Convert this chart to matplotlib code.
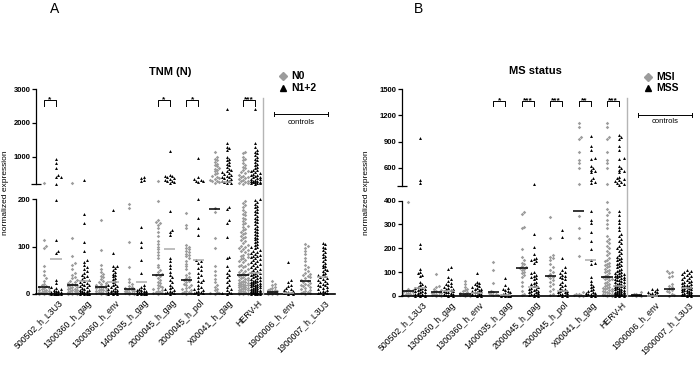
import numpy as np
import matplotlib
matplotlib.use('Agg')
import matplotlib.pyplot as plt
from matplotlib.lines import Line2D
import matplotlib.transforms as mtransforms

plt.rcParams['font.family'] = ['Liberation Sans', 'DejaVu Sans']

# ---------------- data ----------------
genes = ['500502_h_L3U3', '1300360_h_gag', '1300360_h_env', '1400035_h_gag',
         '2000045_h_gag', '2000045_h_pol', 'X00041_h_gag', 'HERV-H',
         '1900006_h_env', '1900007_h_L3U3']

# Panel A: TNM (N)
a_n0 = [
    [215, 113, 101, 97, 60, 48, 40, 33, 28, 22, 18, 16, 15, 13, 12, 10, 9, 8, 7, 6, 5, 5, 4, 3, 3, 2, 2, 1, 1, 0.5],
    [230, 118, 81, 66, 62, 52, 45, 40, 36, 33, 30, 28, 26, 24, 22, 20, 19, 18, 16, 15, 14, 12, 11, 10, 9, 8, 7, 6, 5, 4, 3, 2, 2, 1, 1, 0.5],
    [156, 93, 61, 52, 46, 42, 38, 35, 31, 28, 26, 24, 22, 20, 18, 16, 15, 14, 13, 12, 10, 9, 8, 7, 6, 5, 4, 3, 2, 1, 0.5],
    [189, 181, 110, 57, 32, 26, 21, 17, 14, 12, 11, 10, 9, 8, 7, 6, 5, 4, 3, 2, 1, 0.5],
    [290, 196, 155, 152, 150, 146, 140, 131, 122, 112, 106, 100, 94, 88, 82, 75, 62, 56, 50, 46, 42, 40, 38, 34, 30, 26, 23, 20, 17, 14, 12, 10, 8, 6, 5, 4, 3, 2, 1],
    [170, 145, 139, 103, 100, 97, 94, 91, 88, 85, 82, 79, 75, 70, 64, 58, 52, 45, 40, 36, 33, 30, 28, 25, 22, 20, 18, 15, 12, 10, 8, 6, 5, 4, 3, 2, 1],
    [1150, 1000, 950, 900, 850, 800, 760, 720, 680, 650, 610, 570, 530, 490, 450, 420, 380, 350, 320, 300, 280, 250, 225,
     181, 173, 118, 97, 60, 48, 40, 32, 26, 20, 15, 11, 8, 5, 3, 2, 1],
    [1150, 1100, 1000, 950, 900, 820, 760, 710, 660, 620, 580, 550, 520, 480, 450, 420, 400, 380, 350, 320, 300, 280, 260, 240, 220, 210,
     196, 191, 187, 183, 177, 173, 169, 166, 161, 157, 153, 150, 147, 143, 141, 137, 134, 131, 129, 126, 122, 120, 117, 113, 111,
     108, 104, 102, 100, 97, 95, 92, 90, 88, 85, 83, 80, 78, 76, 73, 71, 69, 67, 64, 62, 60, 58, 56, 53, 51, 49, 47, 45, 43, 41,
     40, 38, 36, 34, 33, 31, 30, 29, 27, 26, 25, 24, 23, 22, 21, 20, 19, 18, 17, 16, 15, 14, 13, 12, 11, 10, 9, 8, 7, 6, 5, 4,
     3, 3, 2, 2, 1, 1, 0.5],
    [28, 22, 18, 15, 12, 10, 9, 8, 7, 6, 5, 5, 4, 3, 3, 2, 2, 1, 1, 0.5],
    [105, 101, 96, 90, 84, 76, 70, 62, 56, 52, 48, 45, 42, 40, 38, 35, 33, 30, 28, 26, 24, 22, 20, 18, 16, 14, 12, 10, 8, 6, 5, 4, 3, 2, 1],
]
a_n12 = [
    [935, 826, 660, 463, 420, 413, 205, 198, 113, 90, 86, 30, 23, 14, 12, 10, 8, 7, 6, 5, 4, 4, 3, 3, 2, 2, 1, 1, 1, 0.5, 0.5, 0.3],
    [307, 168, 149, 110, 90, 72, 68, 62, 57, 52, 48, 44, 40, 38, 35, 32, 30, 28, 26, 24, 22, 20, 18, 16, 14, 12, 10, 9, 8, 7, 6, 5, 4, 3, 3, 2, 2, 1, 1, 0.5, 0.5],
    [177, 86, 60, 58, 55, 51, 47, 43, 40, 37, 34, 31, 28, 25, 22, 20, 18, 16, 14, 12, 10, 9, 8, 7, 6, 5, 4, 3, 2, 2, 1, 1, 0.5],
    [420, 380, 330, 290, 142, 110, 100, 72, 44, 20, 15, 12, 10, 9, 8, 7, 6, 5, 4, 4, 3, 3, 2, 2, 1, 1, 0.5, 0.5],
    [1180, 480, 450, 430, 400, 380, 350, 330, 300, 280, 250, 220, 175, 135, 131, 124, 76, 70, 62, 55, 47, 40, 35, 30, 25, 20, 15, 12, 10, 8, 6, 5, 4, 3, 2, 1],
    [957, 400, 350, 320, 300, 280, 250, 200, 159, 138, 124, 72, 70, 65, 60, 55, 50, 45, 40, 35, 30, 28, 25, 20, 15, 12, 10, 8, 6, 5, 4, 3, 2, 1],
    [2410, 1410, 1300, 1250, 1190, 1000, 950, 900, 850, 800, 750, 700, 650, 600, 580, 550, 520, 500, 480, 450, 420, 400, 380, 350, 330,
     300, 280, 260, 240, 220, 184, 180, 155, 150, 121, 78, 75, 60, 50, 45, 40, 35, 30, 25, 20, 15, 10, 8, 5, 3, 2, 1],
    [2400, 1400, 1300, 1200, 1150, 1100, 1050, 1000, 950, 900, 850, 800, 750, 700, 660, 620, 600, 580, 550, 520, 500, 480, 460, 440,
     420, 400, 380, 360, 340, 320, 300, 290, 280, 270, 260, 250, 240, 230, 220, 210,
     199, 197, 193, 190, 186, 183, 178, 175, 172, 168, 165, 161, 158, 154, 151, 147, 144, 140, 137, 133, 130, 127, 124, 121, 118,
     115, 112, 109, 106, 103, 100, 98, 96, 93, 91, 89, 87, 85, 83, 81, 79, 77, 75, 73, 71, 69, 67, 65, 63, 61, 59, 57, 55, 53,
     51, 49, 47, 45, 44, 42, 41, 39, 38, 36, 35, 33, 32, 30, 29, 28, 27, 26, 25, 24, 23, 22, 21, 20, 19, 18, 17, 16, 15, 14, 13,
     12, 11, 10, 9, 9, 8, 7, 7, 6, 5, 5, 4, 4, 3, 3, 2, 2, 1, 1, 0.5, 0.5],
    [67, 30, 25, 20, 16, 12, 10, 8, 6, 5, 4, 3, 2, 1, 0.5],
    [108, 105, 100, 96, 92, 88, 85, 81, 77, 74, 70, 66, 62, 59, 56, 53, 50, 48, 45, 42, 40, 38, 36, 34, 32, 30, 28, 26, 24, 22, 20,
     18, 16, 14, 12, 10, 8, 6, 5, 4, 3, 2, 1],
]
a_n0_med = [15, 20, 15, 10, 40, 30, 180, 40, 5, 28]
a_n12_med = [73, 28, 25, 26, 95, 72, 260, 45, 3, 36]
a_sig = ['*', '', '', '', '*', '*', '', '***', '', '']

# Panel B: MS status
b_msi = [
    [392, 30, 26, 22, 20, 18, 15, 12, 10, 8, 5, 3, 1],
    [91, 42, 36, 30, 26, 22, 19, 16, 14, 12, 10, 8, 6, 4, 2, 1],
    [63, 50, 39, 30, 25, 20, 16, 13, 10, 8, 6, 5, 3, 2, 1],
    [144, 109, 53, 20, 15, 12, 10, 8, 5, 3],
    [350, 342, 290, 283, 197, 162, 150, 140, 132, 125, 120, 118, 115, 110, 102, 95, 88, 78, 60, 40, 22, 10, 5],
    [329, 241, 171, 165, 160, 150, 132, 120, 110, 100, 92, 85, 80, 75, 68, 60, 50, 40, 30, 20, 10, 5],
    [1109, 1070, 956, 930, 785, 690, 660, 603, 417, 336, 283, 241, 167, 15, 10, 8, 5, 3, 2, 1],
    [1109, 1070, 956, 930, 785, 690, 660, 603, 417,
     392, 365, 350, 340, 320, 300, 285, 250, 240, 230, 220, 210, 200, 190, 180, 170, 160, 150, 145, 140, 135, 130, 125, 120,
     115, 110, 105, 100, 95, 90, 85, 80, 78, 75, 72, 70, 65, 60, 55, 50, 45, 40, 38, 35, 32, 30, 28, 25, 22, 20, 18, 15, 12,
     10, 8, 6, 5, 4, 3, 2, 1],
    [15, 10, 8, 5, 3, 2, 1],
    [105, 100, 95, 85, 80, 50, 42, 36, 30, 25, 20, 15, 10, 5, 2],
]
b_mss = [
    [945, 462, 425, 216, 200, 113, 100, 95, 90, 85, 58, 50, 45, 40, 38, 35, 32, 30, 28, 25, 22, 20, 18, 15, 12, 10, 8, 6, 5, 4, 3, 2, 1, 0.5],
    [123, 113, 78, 70, 62, 55, 50, 45, 40, 36, 32, 30, 28, 25, 22, 20, 18, 15, 12, 10, 8, 6, 5, 4, 3, 2, 1],
    [95, 60, 55, 50, 45, 40, 36, 33, 30, 28, 25, 22, 20, 18, 15, 12, 10, 8, 6, 5, 4, 3, 2, 1],
    [77, 45, 35, 30, 25, 20, 15, 12, 10, 8, 6, 5, 4, 3, 2, 1, 1, 0.5],
    [420, 258, 206, 174, 160, 155, 150, 145, 140, 100, 95, 90, 85, 80, 75, 70, 60, 55, 50, 45, 40, 38, 35, 30, 28, 25, 22, 20,
     18, 15, 12, 10, 8, 6, 4, 2, 1],
    [276, 248, 160, 120, 110, 100, 95, 90, 85, 80, 75, 70, 60, 50, 45, 40, 35, 30, 25, 22, 20, 18, 15, 12, 10, 8, 6, 4, 2, 1],
    [961, 850, 810, 710, 700, 620, 600, 580, 560, 550, 480, 460, 440, 430, 357, 318, 304, 270, 230, 196, 150, 140, 136, 80, 62,
     50, 42, 36, 30, 25, 20, 17, 14, 12, 10, 8, 6, 4, 2, 1],
    [975, 950, 930, 850, 810, 710, 700, 620, 600, 580, 560, 550, 500, 480, 470, 460, 450, 440, 430, 420, 410,
     357, 340, 320, 305, 290, 275, 260, 250, 240, 230, 220, 210, 200, 195, 190, 180, 170, 165, 160, 155, 150, 145, 140, 135,
     130, 125, 120, 115, 110, 105, 100, 98, 95, 92, 90, 88, 85, 82, 80, 78, 75, 72, 70, 68, 65, 62, 60, 58, 55, 52, 50, 48, 46,
     44, 42, 40, 38, 36, 34, 32, 30, 28, 26, 24, 22, 20, 18, 16, 15, 14, 13, 12, 11, 10, 9, 8, 7, 6, 5, 4, 3, 2, 1, 0.5],
    [30, 28, 22, 18, 15, 12, 10, 8, 5, 3, 1],
    [108, 104, 100, 96, 92, 88, 84, 80, 76, 72, 68, 64, 60, 57, 54, 51, 48, 45, 42, 40, 38, 36, 34, 32, 30, 28, 26, 24, 22, 20,
     18, 16, 14, 12, 10, 8, 6, 5, 4, 3, 2, 1],
]
b_msi_med = [20, 15, 10, 15, 118, 82, 357, 80, 5, 30]
b_mss_med = [35, 20, 12, 3, 38, 22, 150, 40, 2, 35]
b_sig = ['', '', '', '*', '***', '***', '**', '***', '', '']

# ---------------- layout ----------------
W, H = 700, 370
PPX = 28.45                      # pixels per group unit
pos = np.array([0, 1, 2, 3, 4, 5, 6, 7, 8.1, 9.28])
half = np.array([0.21] * 8 + [0.28, 0.30])
GREY = '#9c9c9c'
LGREY = '#ababab'

fig = plt.figure(figsize=(7, 3.7), dpi=100)


def fbox(left, top, right, bottom):
    return [left / W, 1 - bottom / H, (right - left) / W, (bottom - top) / H]


def swarm(vals, ppu, dot=2.7, step=2.3, maxw=5.0):
    vals = np.asarray(vals, float)
    order = np.argsort(vals)
    cands = [0.0]
    k = 1
    while k * step <= maxw + 1e-9:
        cands += [k * step, -k * step]
        k += 1
    px, py = [], []
    out = np.zeros(len(vals))
    for i in order:
        y = vals[i] * ppu
        best, bestd = 0.0, -1.0
        for c in cands:
            ds = [np.hypot(c - a, y - b) for a, b in zip(px, py) if abs(y - b) < dot]
            d = min(ds) if ds else 99.0
            if d >= dot * 0.95:
                best = c
                break
            if d > bestd:
                bestd, best = d, c
        out[i] = best
        px.append(best)
        py.append(y)
    return out / PPX


def panel(left, right, x0px, up_box, lo_box, split, ymax, up_ticks, lo_ticks,
          g0, g1, m0, m1, sig, sig_y, ctrl_y, title, title_xy, leg_names, leg_xy,
          letter, letter_xy, ylab_x):
    ax_up = fig.add_axes(fbox(left, up_box[0], right, up_box[1]))
    ax_lo = fig.add_axes(fbox(left, lo_box[0], right, lo_box[1]))
    xl0 = -x0px / PPX
    xl1 = xl0 + (right - left) / PPX
    up_ppu = (up_box[1] - up_box[0]) / (ymax - split)
    lo_ppu = (lo_box[1] - lo_box[0]) / split
    for ax in (ax_up, ax_lo):
        ax.set_xlim(xl0, xl1)
        for s in ('top', 'right'):
            ax.spines[s].set_visible(False)
        ax.spines['left'].set_linewidth(0.9)
        ax.tick_params(axis='y', length=3, width=0.9, pad=1, labelsize=5.5)
        ax.patch.set_alpha(0)
    ax_up.set_ylim(split, ymax)
    ax_lo.set_ylim(0, split)
    ax_up.spines['bottom'].set_visible(False)
    ax_up.set_xticks([])
    ax_up.set_yticks(up_ticks)
    ax_up.set_yticklabels([str(t) for t in up_ticks], fontweight='bold')
    ax_up.set_yticks([split], minor=True)
    ax_up.tick_params(axis='y', which='minor', direction='inout', length=7, width=0.9)
    ax_lo.set_yticks(lo_ticks)
    ax_lo.set_yticklabels([str(t) for t in lo_ticks], fontweight='bold')
    ax_lo.spines['bottom'].set_linewidth(1.2)
    ax_lo.set_xticks(pos + half + 0.08)
    ax_lo.set_xticklabels(genes, rotation=45, ha='right', va='top',
                          rotation_mode='anchor', fontsize=6.3)
    ax_lo.tick_params(axis='x', length=0, pad=3)

    for gi in range(len(genes)):
        for sub, (vals, col, mk, ms, med, mcol) in enumerate([
                (g0[gi], GREY, 'D', 3.2, m0[gi], 'black'),
                (g1[gi], 'black', '^', 4.5, m1[gi], LGREY)]):
            xc = pos[gi] + (2 * sub - 1) * half[gi]
            v = np.asarray(vals, float)
            hi = v > split
            for ax, sel, ppu in ((ax_up, hi, up_ppu), (ax_lo, ~hi, lo_ppu)):
                if sel.sum() == 0:
                    continue
                vv = v[sel]
                off = swarm(vv, ppu)
                ax.scatter(xc + off, vv, s=ms, marker=mk, color=col,
                           linewidths=0, clip_on=False, zorder=2)
            axm = ax_up if med > split else ax_lo
            axm.plot([xc - 0.2, xc + 0.2], [med, med], color=mcol, lw=1.1,
                     solid_capstyle='butt', zorder=3, clip_on=False)
        if sig[gi]:
            xa, xb = pos[gi] - half[gi], pos[gi] + half[gi]
            yt, yb = sig_y
            ax_up.plot([xa, xa, xb, xb], [yb, yt, yt, yb], color='black', lw=0.7,
                       clip_on=False)
            ax_up.text(pos[gi], yt, sig[gi], ha='center', va='center',
                       fontsize=6, fontweight='bold')

    # separator between HERV and controls
    sep_x = (pos[7] + pos[8]) / 2 - 0.05
    tr = mtransforms.blended_transform_factory(ax_lo.transData, fig.transFigure)
    fig.add_artist(Line2D([sep_x, sep_x], [1 - 98 / H, 1 - lo_box[1] / H],
                          transform=tr, color='#b5b5b5', lw=1.0))
    # controls bracket
    ca, cb = pos[8] - 0.23, pos[9] + 0.49
    cy, ct = ctrl_y
    dy = (ymax - split) * 0.02
    ax_up.plot([ca, cb], [cy, cy], color='black', lw=0.7, clip_on=False)
    ax_up.plot([ca, ca], [cy - dy, cy + dy], color='black', lw=0.7, clip_on=False)
    ax_up.plot([cb, cb], [cy - dy, cy + dy], color='black', lw=0.7, clip_on=False)
    ax_up.text((ca + cb) / 2, ct, 'controls', ha='center', va='center', fontsize=5.5)

    # title, legend, letter, ylabel
    fig.text(title_xy[0] / W, 1 - title_xy[1] / H, title, ha='center', va='center',
             fontsize=8, fontweight='bold')
    for (name, mk, col, msz), yy in zip([(leg_names[0], 'D', GREY, 3.6),
                                         (leg_names[1], '^', 'black', 4.0)], leg_xy[1]):
        fig.add_artist(Line2D([leg_xy[0] / W], [1 - yy / H], marker=mk, color=col,
                              markersize=msz, linestyle='none',
                              transform=fig.transFigure))
        fig.text((leg_xy[0] + 8) / W, 1 - yy / H, name, ha='left', va='center',
                 fontsize=7.5, fontweight='bold')
    fig.text(letter_xy[0] / W, 1 - letter_xy[1] / H, letter, ha='center', va='center',
             fontsize=10)
    fig.text(ylab_x / W, 1 - 193 / H, 'normalized expression', rotation=90,
             ha='center', va='center', fontsize=6)


panel(36, 335, 14, (89, 184), (199, 294), 200, 3000, [1000, 2000, 3000], [0, 100, 200],
      a_n0, a_n12, a_n0_med, a_n12_med, a_sig, (2675, 2513), (2263, 2026),
      'TNM (N)', (170, 72), ('N0', 'N1+2'), (283, (76, 88)), 'A', (55, 9), 6)

panel(402, 700, 12, (89, 185.5), (200.5, 296), 400, 1500, [600, 900, 1200, 1500],
      [0, 100, 200, 300, 400],
      b_msi, b_mss, b_msi_med, b_mss_med, b_sig, (1363, 1306), (1204, 1124),
      'MS status', (535, 71), ('MSI', 'MSS'), (648, (77, 88)), 'B', (418, 9), 367)

fig.savefig('out.png', dpi=100)
